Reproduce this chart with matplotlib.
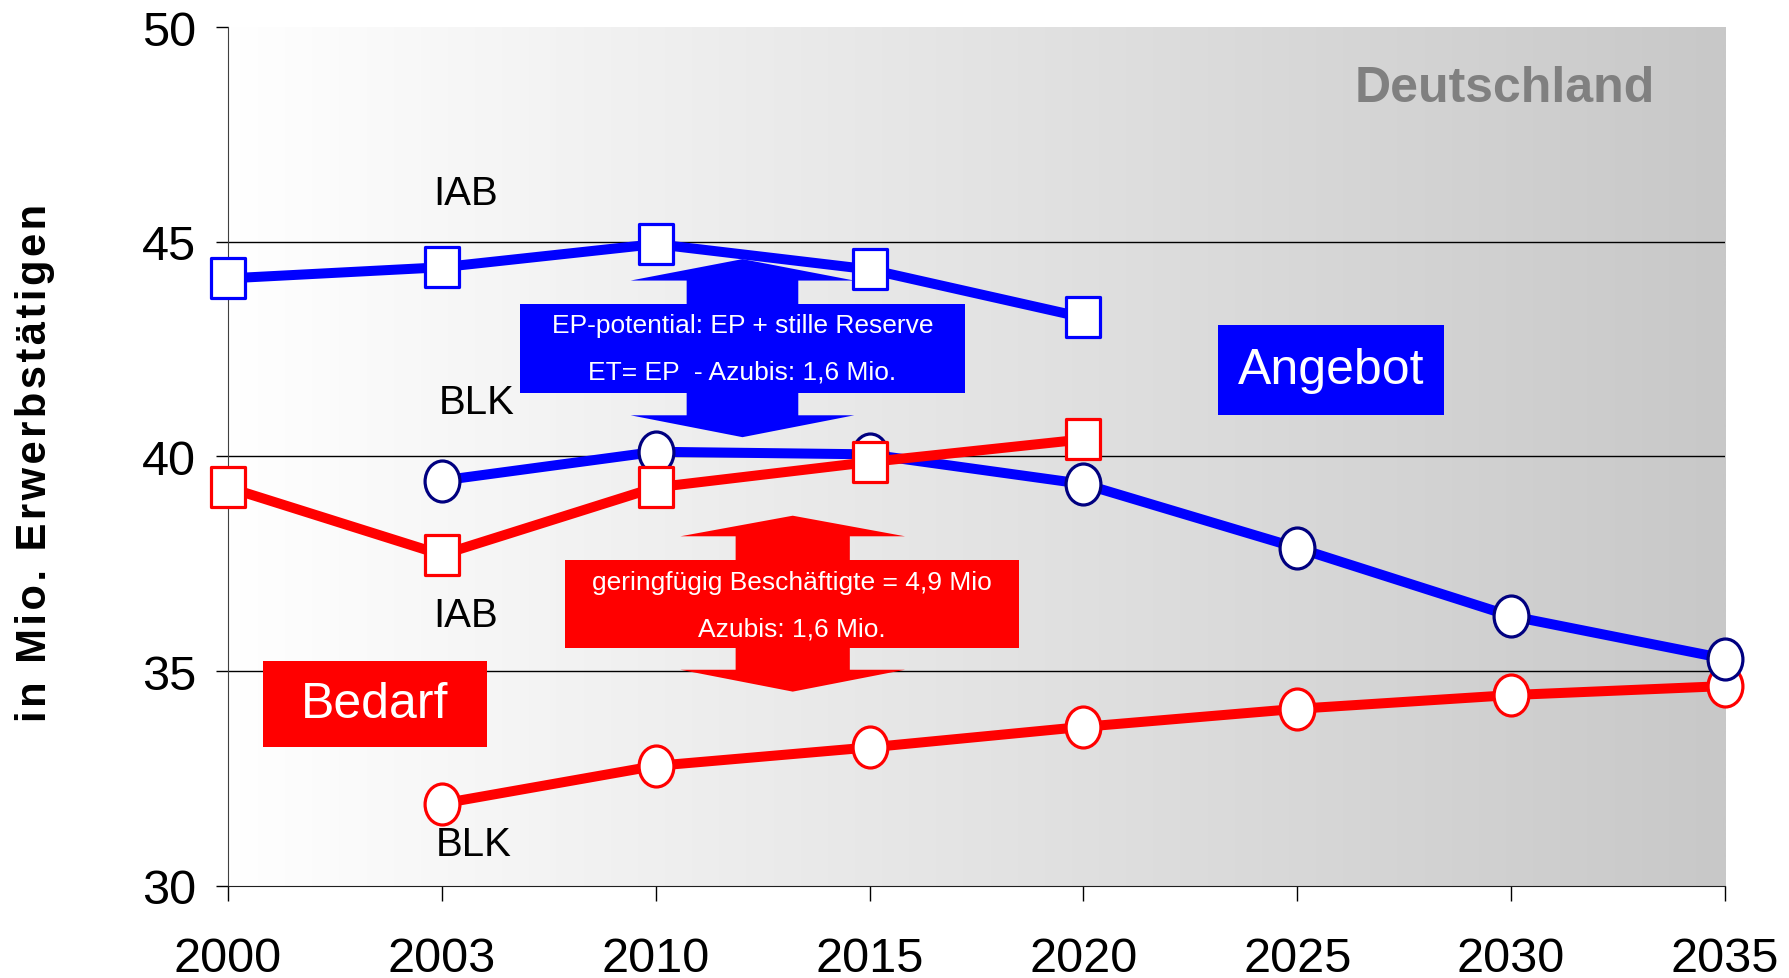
import matplotlib
matplotlib.use("Agg")
import matplotlib.pyplot as plt
import numpy as np
from matplotlib.path import Path
from matplotlib.transforms import Affine2D
from matplotlib.patches import Polygon, Rectangle

years = ["2000", "2003", "2010", "2015", "2020", "2025", "2030", "2035"]

# Angebot (blue)
iab_angebot = [44.15, 44.41, 44.95, 44.36, 43.24]
blk_angebot = [None, 39.44, 40.11, 40.05, 39.36, 37.87, 36.28, 35.29]
# Bedarf (red)
iab_bedarf = [39.28, 37.71, 39.28, 39.87, 40.40]
blk_bedarf = [None, 31.91, 32.79, 33.22, 33.70, 34.12, 34.44, 34.65]

plt.rcParams["font.family"] = ["Liberation Sans", "DejaVu Sans"]

BLUE = "#0000ff"
RED = "#ff0000"

ellipse = Path.unit_circle().transformed(Affine2D().scale(0.85, 1.0))
box = Path([(-0.82, -1), (0.82, -1), (0.82, 1), (-0.82, 1), (-0.82, -1)],
           [Path.MOVETO, Path.LINETO, Path.LINETO, Path.LINETO, Path.CLOSEPOLY])


def series(vals):
    xs = [i for i, v in enumerate(vals) if v is not None]
    ys = [v for v in vals if v is not None]
    return xs, ys


fig = plt.figure(figsize=(17.89, 9.79), dpi=100)
ax = fig.add_axes([0.1274, 0.0944, 0.9642 - 0.1274, 0.971 - 0.0944])

# gradient background
grad = np.linspace(255, 200, 256) / 255.0
img = np.dstack([grad, grad, grad]).repeat(2, axis=0)
ax.imshow(img, extent=[0, 7, 30, 50], aspect="auto", zorder=0, interpolation="bilinear")

ax.set_xlim(0, 7)
ax.set_ylim(30, 50)
for yv in [35, 40, 45]:
    ax.axhline(yv, color="black", lw=1.0, zorder=1)

ms = 29.5
lw = 7.2
x, y = series(blk_bedarf)
ax.plot(x, y, color=RED, lw=lw, marker=ellipse, ms=ms, mfc="white", mec=RED,
        mew=2.3, zorder=3, clip_on=False)
x, y = series(iab_angebot)
ax.plot(x, y, color=BLUE, lw=lw, marker=box, ms=ms, mfc="white", mec=BLUE,
        mew=2.3, zorder=4, clip_on=False)
x, y = series(blk_angebot)
ax.plot(x, y, color=BLUE, lw=lw, marker=ellipse, ms=ms, mfc="white", mec="#000080",
        mew=2.3, zorder=5, clip_on=False)
x, y = series(iab_bedarf)
ax.plot(x, y, color=RED, lw=lw, marker=box, ms=ms, mfc="white", mec=RED,
        mew=2.3, zorder=6, clip_on=False)


def double_arrow(cx, hw, sw, tip_top, base_top, base_bot, tip_bot, color):
    pts = [(cx, tip_top), (cx + hw, base_top), (cx + sw, base_top),
           (cx + sw, base_bot), (cx + hw, base_bot), (cx, tip_bot),
           (cx - hw, base_bot), (cx - sw, base_bot), (cx - sw, base_top),
           (cx - hw, base_top)]
    ax.add_patch(Polygon(pts, closed=True, facecolor=color, edgecolor="none", zorder=7))


# blue arrow + box
double_arrow(2.406, 0.523, 0.261, 44.60, 44.10, 40.96, 40.45, BLUE)
ax.add_patch(Rectangle((1.366, 41.49), 3.447 - 1.366, 43.56 - 41.49,
                       facecolor=BLUE, edgecolor="none", zorder=7))
ax.text(2.406, 43.06, "EP-potential: EP + stille Reserve", color="white",
        fontsize=19, ha="center", va="center", zorder=8)
ax.text(2.406, 41.97, "ET= EP  - Azubis: 1,6 Mio.", color="white",
        fontsize=19, ha="center", va="center", zorder=8)

# red arrow + box
double_arrow(2.641, 0.525, 0.267, 38.62, 38.14, 35.03, 34.52, RED)
ax.add_patch(Rectangle((1.574, 35.53), 3.697 - 1.574, 37.59 - 35.53,
                       facecolor=RED, edgecolor="none", zorder=7))
ax.text(2.636, 37.07, "geringfügig Beschäftigte = 4,9 Mio", color="white",
        fontsize=19, ha="center", va="center", zorder=8)
ax.text(2.636, 35.98, "Azubis: 1,6 Mio.", color="white",
        fontsize=19, ha="center", va="center", zorder=8)

# Angebot / Bedarf boxes
ax.add_patch(Rectangle((4.631, 40.96), 5.687 - 4.631, 43.06 - 40.96,
                       facecolor=BLUE, edgecolor="none", zorder=7))
ax.text(5.159, 42.02, "Angebot", color="white", fontsize=36,
        ha="center", va="center", zorder=8)
ax.add_patch(Rectangle((0.165, 33.24), 1.211 - 0.165, 35.24 - 33.24,
                       facecolor=RED, edgecolor="none", zorder=7))
ax.text(0.688, 34.23, "Bedarf", color="white", fontsize=36,
        ha="center", va="center", zorder=8)

# series labels
ax.text(1.11, 46.14, "IAB", fontsize=29, ha="center", va="center", zorder=8)
ax.text(1.163, 41.28, "BLK", fontsize=29, ha="center", va="center", zorder=8)
ax.text(1.11, 36.30, "IAB", fontsize=29, ha="center", va="center", zorder=8)
ax.text(1.147, 30.98, "BLK", fontsize=29, ha="center", va="center", zorder=8)
ax.text(5.97, 48.59, "Deutschland", fontsize=36, fontweight="bold",
        color="#808080", ha="center", va="center", zorder=8)

# axes styling
ax.set_xticks(range(len(years)))
ax.set_xticklabels(years)
ax.set_yticks([30, 35, 40, 45, 50])
ax.tick_params(axis="x", length=11, width=1, pad=25, labelsize=35)
ax.tick_params(axis="y", length=9, width=1, pad=14, labelsize=35)
for s in ["top", "right"]:
    ax.spines[s].set_visible(False)
ax.spines["left"].set_color("#404040")
ax.spines["bottom"].set_color("#202020")

ylabel = "\u200a".join("in Mio. Erwerbstätigen")
fig.text(0.0197, 0.527, ylabel, rotation=90, fontsize=30,
         fontweight="bold", ha="center", va="center",
         family=["Liberation Sans", "DejaVu Sans"])

fig.savefig("out.png", dpi=100)
